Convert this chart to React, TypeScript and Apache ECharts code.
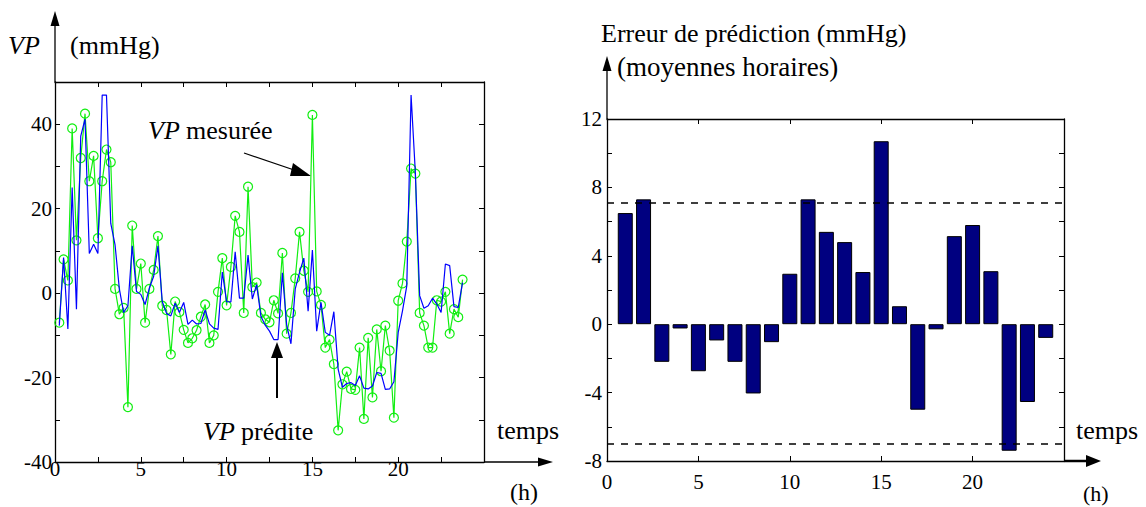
import React, { useEffect, useRef } from "react";
import * as echarts from "echarts";

// ---- Data ----
// Samples every 15 minutes, first sample at 0.25 h
const SAMPLE_STEP_H = 0.25;
const measuredVP = [
  -7, 8, 3, 39, 12.5, 32, 42.5, 26.5, 32.5, 13,
  26.5, 34, 31, 1, -5, -3.5, -27, 16, 1, 7,
  -7, 1, 5.5, 13.5, -3, -4, -14.5, -2, -4.5, -8.7,
  -11.8, -10.7, -8.8, -5.6, -2.7, -11.8, -10, 0.3, 8.3, -2.9,
  6.2, 18.3, 14.5, -4.7, 25.2, 1.4, 2.5, -4.7, -6.2, -6.9,
  -1.7, -4.8, 9.5, -9.6, -4.7, 3.5, 14.5, 5.3, 0.3, 42.2,
  0.4, -2.8, -12.9, -11, -16.8, -32.5, -21.6, -18.6, -22.7, -22.9,
  -12.9, -29.8, -10.6, -24.7, -8.6, -18.5, -7.7, -13.6, -29.5, -1.8,
  2.3, 12.2, 29.5, 28.3, -4.7, -7.7, -12.9, -12.9, -1.7, -2,
  0.3, -9.6, -3.8, -5.7, 3.2,
];
const predictedVP = [
  -7.7, 8.4, -8.5, 25, -3.8, 37.2, 41.2, 9.4, 11.6, 9.4,
  46.9, 46.9, 16.5, 11.4, 1, -4.6, -3, 11.2, 0.4, -0.3,
  -2.7, 1.2, 4, 11.2, -2, -4.8, -5.4, -2.4, -4.6, -2.2,
  -7.4, -6.4, -7.3, -7.2, -4, -7.3, -8.3, -8.6, 5, -2,
  -2.1, 9.8, -1.2, -1.2, 9, -1.4, 2, -5.5, -7.6, -9,
  -11, -11, 4.8, -7.5, -12, 1, 4.9, 8.3, -4.3, 10.2,
  -9, -2.2, -9.3, -10, -4.4, -18, -22.3, -21.4, -21.2, -21.9,
  -19.6, -22.5, -22.7, -22, -18.8, -19, -22.8, -22.7, -21, -9.3,
  -4.2, 1.7, 46.9, 28.5, -0.6, -3.6, -3, -1.2, -2.6, -4.6,
  6.9, 6.5, -3.2, -3.4, 2.5,
];
const barHours = [1, 2, 3, 4, 5, 6, 7, 8, 9, 10, 11, 12, 13, 14, 15, 16, 17, 18, 19, 20, 21, 22, 23, 24];
const hourlyErrors = [
  6.5, 7.3, -2.2, -0.25, -2.75, -0.95, -2.2, -4.05, -1.05, 2.95, 7.3, 5.4,
  4.8, 3.05, 10.7, 1.05, -5.0, -0.3, 5.15, 5.8, 3.1, -7.4, -4.55, -0.8,
];
const errorLimits = [7.1, -7.0];
const leftYLabels = [-40, -20, 0, 20, 40];
const rightYLabels = [-8, -4, 0, 4, 8, 12];
const xLabels = [0, 5, 10, 15, 20];

const FONT = "Liberation Serif";

export default function App() {
  const ref = useRef<HTMLDivElement>(null);

  useEffect(() => {
    if (!ref.current) return;
    const chart = echarts.init(ref.current, undefined, { renderer: "svg" });

    const measuredData = measuredVP.map((v, i) => [(i + 1) * SAMPLE_STEP_H, v]);
    const predictedData = predictedVP.map((v, i) => [(i + 1) * SAMPLE_STEP_H, v]);
    const barData = barHours.map((h, i) => [h, hourlyErrors[i]]);

    const axisLineStyle = { color: "#000", width: 1.3 };
    const tickStyle = { color: "#000", width: 1 };
    const richT = { t: { fontFamily: FONT, fontSize: 21, color: "#000" } };
    const labelBase = { color: "#000", fontFamily: FONT, fontSize: 21, rich: richT };

    const pick = (list: number[]) => (v: number) => (list.indexOf(v) >= 0 ? `{t|${v}}` : "");

    const mkAxisLine = { show: true, onZero: false, lineStyle: axisLineStyle };
    const mkTick = { show: true, inside: true, length: 5, lineStyle: tickStyle };

    const option: any = {
      animation: false,
      backgroundColor: "#fff",
      textStyle: { fontFamily: FONT },
      grid: [
        { left: 55, top: 82, width: 429, height: 380 },
        { left: 607, top: 119, width: 457, height: 342 },
      ],
      xAxis: [
        {
          type: "value", gridIndex: 0, min: 0, max: 25, interval: 2.5, position: "bottom",
          axisLine: mkAxisLine, axisTick: mkTick,
          axisLabel: { ...labelBase, margin: -4, formatter: pick(xLabels) },
          splitLine: { show: false },
        },
        {
          type: "value", gridIndex: 0, min: 0, max: 25, interval: 2.5, position: "top",
          axisLine: mkAxisLine, axisTick: mkTick,
          axisLabel: { show: false },
          splitLine: { show: false },
        },
        {
          type: "value", gridIndex: 1, min: 0, max: 25, interval: 5, position: "bottom",
          axisLine: mkAxisLine, axisTick: mkTick,
          axisLabel: { ...labelBase, margin: 10, formatter: pick(xLabels) },
          splitLine: { show: false },
        },
        {
          type: "value", gridIndex: 1, min: 0, max: 25, interval: 5, position: "top",
          axisLine: mkAxisLine, axisTick: mkTick,
          axisLabel: { show: false },
          splitLine: { show: false },
        },
      ],
      yAxis: [
        {
          type: "value", gridIndex: 0, min: -40, max: 50, interval: 10, position: "left",
          axisLine: mkAxisLine, axisTick: mkTick,
          axisLabel: { ...labelBase, margin: 3, formatter: pick(leftYLabels) },
          splitLine: { show: false },
        },
        {
          type: "value", gridIndex: 0, min: -40, max: 50, interval: 10, position: "right",
          axisLine: mkAxisLine, axisTick: mkTick,
          axisLabel: { show: false },
          splitLine: { show: false },
        },
        {
          type: "value", gridIndex: 1, min: -8, max: 12, interval: 2, position: "left",
          axisLine: mkAxisLine, axisTick: mkTick,
          axisLabel: { ...labelBase, margin: 5, formatter: pick(rightYLabels) },
          splitLine: { show: false },
        },
        {
          type: "value", gridIndex: 1, min: -8, max: 12, interval: 2, position: "right",
          axisLine: mkAxisLine, axisTick: mkTick,
          axisLabel: { show: false },
          splitLine: { show: false },
        },
      ],
      series: [
        {
          name: "VP mesurée", type: "line", xAxisIndex: 0, yAxisIndex: 0,
          data: measuredData,
          symbol: "circle", symbolSize: 9,
          itemStyle: { color: "rgba(0,0,0,0)", borderColor: "#11ee11", borderWidth: 1.2 },
          lineStyle: { color: "#11ee11", width: 1.2 },
          z: 2,
        },
        {
          name: "VP prédite", type: "line", xAxisIndex: 0, yAxisIndex: 0,
          data: predictedData,
          symbol: "none",
          lineStyle: { color: "#0000ff", width: 1.2 },
          z: 3,
        },
        {
          name: "Erreur", type: "bar", xAxisIndex: 2, yAxisIndex: 2,
          data: barData,
          barWidth: 15,
          itemStyle: { color: "#000080", borderColor: "#000", borderWidth: 1 },
          markLine: {
            silent: true,
            symbol: ["none", "none"],
            label: { show: false },
            lineStyle: { color: "#000", width: 1.5, type: [7, 7] },
            data: errorLimits.map((v) => ({ yAxis: v })),
          },
        },
      ],
      graphic: [
        // left chart axis arrows
        { type: "line", shape: { x1: 55, y1: 82, x2: 55, y2: 24 }, style: { stroke: "#000", lineWidth: 1.3 } },
        { type: "polygon", shape: { points: [[55, 11], [50.5, 26], [59.5, 26]] }, style: { fill: "#000" } },
        { type: "line", shape: { x1: 484, y1: 462, x2: 540, y2: 462 }, style: { stroke: "#000", lineWidth: 1.3 } },
        { type: "polygon", shape: { points: [[553, 462], [538, 457.5], [538, 466.5]] }, style: { fill: "#000" } },
        // right chart axis arrows
        { type: "line", shape: { x1: 607, y1: 119, x2: 607, y2: 70 }, style: { stroke: "#000", lineWidth: 1.3 } },
        { type: "polygon", shape: { points: [[607, 56], [602.5, 71], [611.5, 71]] }, style: { fill: "#000" } },
        { type: "line", shape: { x1: 1064, y1: 461, x2: 1088, y2: 461 }, style: { stroke: "#000", lineWidth: 2.5 } },
        { type: "polygon", shape: { points: [[1101, 461], [1086, 455], [1086, 467]] }, style: { fill: "#000" } },
        // annotation arrows
        { type: "line", shape: { x1: 244, y1: 153, x2: 300, y2: 172 }, style: { stroke: "#000", lineWidth: 1.3 } },
        { type: "polygon", shape: { points: [[311, 176], [293, 163], [290, 176]] }, style: { fill: "#000" } },
        { type: "line", shape: { x1: 277, y1: 398, x2: 277, y2: 355 }, style: { stroke: "#000", lineWidth: 2 } },
        { type: "polygon", shape: { points: [[277, 342], [271, 358], [283, 358]] }, style: { fill: "#000" } },
        // texts
        {
          type: "text", x: 8, y: 45,
          style: { text: "VP", fontFamily: FONT, fontStyle: "italic", fontSize: 26, verticalAlign: "middle", fill: "#000" },
        },
        { type: "text", x: 70, y: 45, style: { text: "(mmHg)", fontFamily: FONT, fontSize: 26, verticalAlign: "middle", fill: "#000" } },
        {
          type: "text", x: 148, y: 130,
          style: { text: "VP", fontFamily: FONT, fontStyle: "italic", fontSize: 26, verticalAlign: "middle", fill: "#000" },
        },
        { type: "text", x: 186, y: 130, style: { text: "mesurée", fontFamily: FONT, fontSize: 26, verticalAlign: "middle", fill: "#000" } },
        {
          type: "text", x: 203, y: 431,
          style: { text: "VP", fontFamily: FONT, fontStyle: "italic", fontSize: 26, verticalAlign: "middle", fill: "#000" },
        },
        { type: "text", x: 241, y: 431, style: { text: "prédite", fontFamily: FONT, fontSize: 26, verticalAlign: "middle", fill: "#000" } },
        { type: "text", x: 497, y: 430, style: { text: "temps", fontFamily: FONT, fontSize: 26, verticalAlign: "middle", fill: "#000" } },
        { type: "text", x: 510, y: 492, style: { text: "(h)", fontFamily: FONT, fontSize: 24, verticalAlign: "middle", fill: "#000" } },
        { type: "text", x: 601, y: 33, style: { text: "Erreur de prédiction (mmHg)", fontFamily: FONT, fontSize: 26, verticalAlign: "middle", fill: "#000" } },
        { type: "text", x: 617, y: 67, style: { text: "(moyennes horaires)", fontFamily: FONT, fontSize: 27, verticalAlign: "middle", fill: "#000" } },
        { type: "text", x: 1076, y: 430, style: { text: "temps", fontFamily: FONT, fontSize: 26, verticalAlign: "middle", fill: "#000" } },
        { type: "text", x: 1083, y: 493, style: { text: "(h)", fontFamily: FONT, fontSize: 22, verticalAlign: "middle", fill: "#000" } },
      ],
    };

    chart.setOption(option);
    return () => chart.dispose();
  }, []);

  return (
    <div
      ref={ref}
      style={{ position: "absolute", left: 0, top: 0, width: 1146, height: 507, background: "#fff" }}
    />
  );
}
